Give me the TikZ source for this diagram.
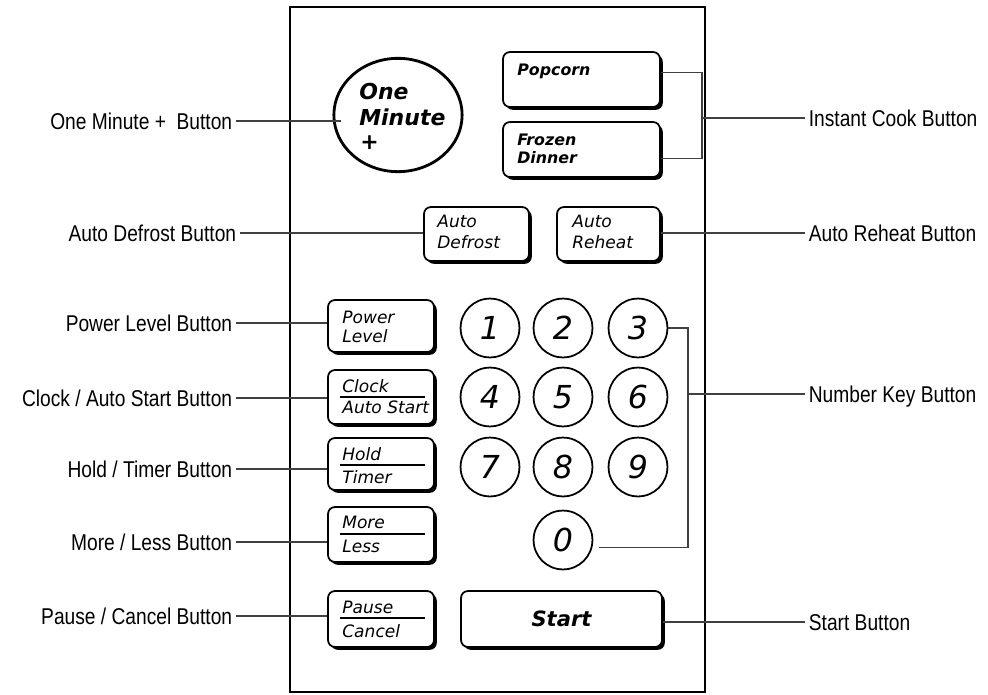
\documentclass[tikz,border=0pt]{standalone}
\usepackage{fontspec}
\setmainfont{DejaVu Sans}[ItalicFont={DejaVu Sans Oblique}, BoldItalicFont={DejaVu Sans Bold Oblique}]
\newfontfamily\lblfont[FakeStretch=0.84]{Liberation Sans}
\usetikzlibrary{shapes.geometric,shadows,fit}

\begin{document}
\begin{tikzpicture}[x=0.02cm, y=-0.02cm,
	lead/.style={black!75, line width=0.6pt},
	rule/.style={black, line width=0.6pt},
	btn/.style={draw, line width=1pt, rounded corners=4pt, fill=white, inner sep=0pt,
		drop shadow={shadow xshift=1.6pt, shadow yshift=-1.6pt, fill=black, opacity=1}},
	btxt/.style={anchor=base west, inner sep=0pt, font=\fontsize{9.7}{11}\selectfont\itshape},
	bbold/.style={anchor=base west, inner sep=0pt, font=\fontsize{9}{11}\selectfont\bfseries\itshape},
	numkey/.style={draw, circle, line width=1pt, minimum size=33.5pt, inner sep=0pt, font=\fontsize{18}{20}\selectfont\itshape},
	lbl/.style={inner sep=2pt, text height=9.4pt, text depth=0pt, font=\lblfont\fontsize{13}{15}\selectfont}]

	\useasboundingbox (0,0) rectangle (988,694);

	% panel
	\draw[line width=0.9pt] (290,7) rectangle (705,692);

	% buttons
	\node[draw, ellipse, line width=1.6pt, minimum width=73pt, minimum height=64.5pt, inner sep=0pt] (one) at (398,115) {};
	\node[btn, fit={(503,52) (660,107)}] (pop) {};
	\node[btn, fit={(503,122) (660,177)}] (frz) {};
	\node[btn, fit={(424,207) (529,261)}] (def) {};
	\node[btn, fit={(557,207) (660,261)}] (reh) {};
	\node[btn, fit={(328,300) (434,352)}] (pow) {};
	\node[btn, fit={(328,370) (434,424)}] (clk) {};
	\node[btn, fit={(328,438) (434,490)}] (hld) {};
	\node[btn, fit={(328,507) (434,562)}] (mor) {};
	\node[btn, fit={(328,591) (434,647)}] (pau) {};
	\node[btn, fit={(461,591) (662,647)}] (start) {};

	% number keys
	\foreach \d/\x/\y in {1/490/328, 2/563/328, 3/638/328, 4/490/397, 5/563/397, 6/638/397, 7/490/467, 8/563/467, 9/638/467, 0/563/540}
		\node[numkey] (n\d) at (\x,\y) {\d};

	% button texts
	\foreach \t/\x/\y [count=\i] in {One/359/99, Minute/359/125, +/360/149}
		\node[anchor=base west, inner sep=0pt, font=\fontsize{12.5}{14}\selectfont\bfseries\itshape] (om\i) at (\x,\y) {\t};
	\foreach \t/\x/\y [count=\i] in {Popcorn/517/75, Frozen/517/145, Dinner/517/163}
		\node[bbold] (ic\i) at (\x,\y) {\t};
	\foreach \t/\x/\y [count=\i] in {Auto/437/227, Defrost/437/248, Auto/572/227, Reheat/572/248,
		Power/342/323, Level/342/342, Clock/342/392, Auto Start/342/413, Hold/342/460, Timer/342/483,
		More/342/528, Less/342/552, Pause/342/613, Cancel/342/637}
		\node[btxt] (bt\i) at (\x,\y) {\t};
	\foreach \y in {397,465,534,618}
		\draw[rule] (340,\y) -- (425,\y);
	\node[font=\fontsize{12}{14}\selectfont\bfseries\itshape] (startTxt) at (start) {Start};

	% labels left
	\node[lbl, anchor=east] (lOne) at (236,121) {One Minute +\ \ Button};
	\node[lbl, anchor=east] (lDef) at (240,233) {Auto Defrost Button};
	\node[lbl, anchor=east] (lPow) at (236,323) {Power Level Button};
	\node[lbl, anchor=east] (lClk) at (236,398) {Clock / Auto Start Button};
	\node[lbl, anchor=east] (lHld) at (236,469) {Hold / Timer Button};
	\node[lbl, anchor=east] (lMor) at (236,542) {More / Less Button};
	\node[lbl, anchor=east] (lPau) at (236,616) {Pause / Cancel Button};

	\draw[lead, shorten >=-5pt] (lOne.east) -- (lOne.east -| one.west);
	\draw[lead] (lDef.east) -- (lDef.east -| def.west);
	\draw[lead] (lPow.east) -- (lPow.east -| pow.west);
	\draw[lead] (lClk.east) -- (lClk.east -| clk.west);
	\draw[lead] (lHld.east) -- (lHld.east -| hld.west);
	\draw[lead] (lMor.east) -- (lMor.east -| mor.west);
	\draw[lead] (lPau.east) -- (lPau.east -| pau.west);

	% labels right
	\node[lbl, anchor=west] (lIC) at (805,118) {Instant Cook Button};
	\node[lbl, anchor=west] (lReh) at (805,233) {Auto Reheat Button};
	\node[lbl, anchor=west] (lNum) at (805,394) {Number Key Button};
	\node[lbl, anchor=west] (lSt) at (805,622) {Start Button};

	\coordinate (icj) at (702,118);
	\coordinate (nk) at (688,394);
	\draw[lead] ([yshift=4pt]pop.east) -| (icj) |- ([yshift=-5pt]frz.east);
	\draw[lead] (icj) -- (lIC.west);
	\draw[lead] (reh.east |- lReh.west) -- (lReh.west);
	\draw[lead] (n3.east) -| (nk) |- ([xshift=3pt, yshift=-4.5pt]n0.east);
	\draw[lead] (nk) -- (lNum.west);
	\draw[lead] (start.east |- lSt.west) -- (lSt.west);

\end{tikzpicture}
\end{document}
